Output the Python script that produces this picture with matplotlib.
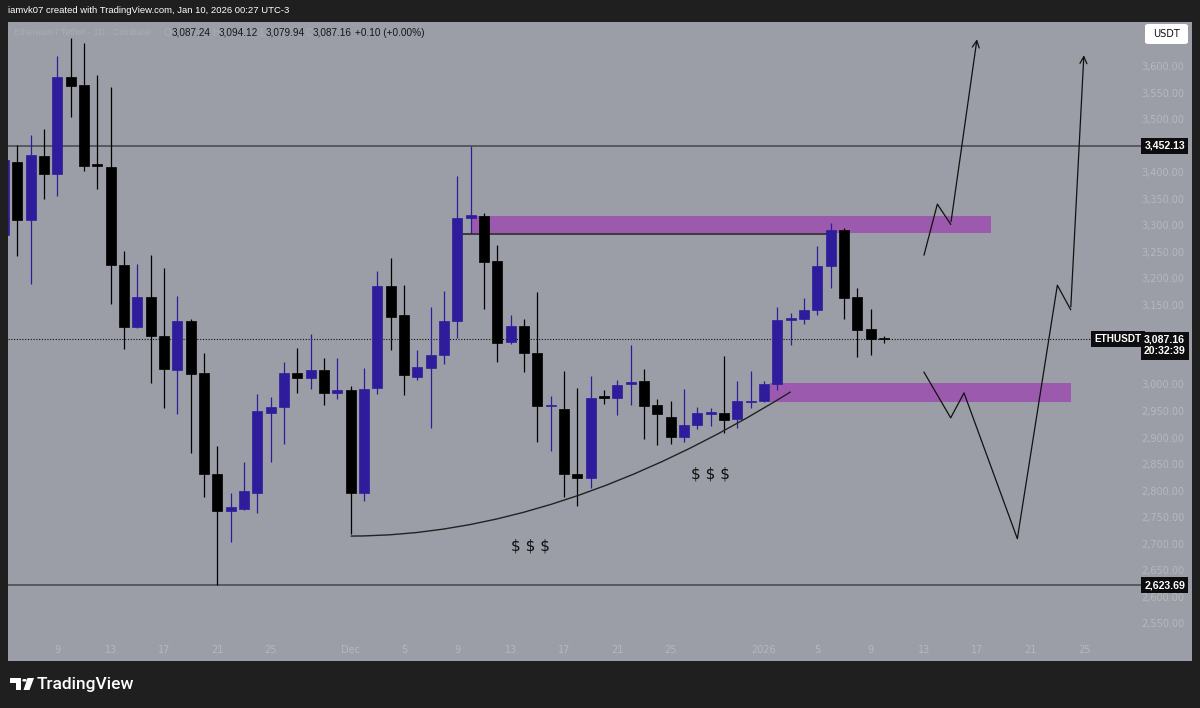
import numpy as np
import pandas as pd
import matplotlib; matplotlib.use("Agg")
import matplotlib.pyplot as plt
import matplotlib.dates as mdates
from matplotlib.patches import Rectangle, FancyBboxPatch, PathPatch, Circle, Polygon
from matplotlib.path import Path

# ---- daily ETH/USDT candles ----
dates = pd.date_range("2025-11-05", "2026-01-10", freq="D")
opens = [3283, 3421, 3312, 3432, 3399, 3581, 3566, 3417, 3412, 3227, 3111, 3167, 3094, 3029, 3121, 3023,
         2833, 2763, 2767, 2798, 2949, 2960, 3024, 3015, 3029, 2986,
         2991, 2798, 2995, 3187, 3133, 3016, 3033, 3057, 3121, 3315, 3319, 3234, 3082, 3112, 3061, 2961,
         2956, 2834, 2825, 2980, 2976, 3002, 3008, 2964, 2941, 2902, 2925, 2947, 2949, 2936, 2968,
         2970, 3003, 3123, 3125, 3142, 3225, 3294, 3167, 3107, 3087.24]
highs = [3442, 3454, 3472, 3484, 3621, 3656, 3646, 3586, 3562, 3253, 3229, 3246, 3222, 3169, 3125, 3062,
         2886, 2798, 2856, 2984, 2978, 3044, 3070, 3098, 3051, 3052,
         2999, 3033, 3216, 3240, 3189, 3067, 3148, 3178, 3395, 3452.13, 3325, 3264, 3133, 3126, 3176, 2980,
         3027, 2996, 3017, 2991, 3010, 3076, 3032, 2974, 2971, 2993, 2959, 2958, 3055, 3008, 3027,
         3008, 3148, 3136, 3165, 3263, 3306, 3297, 3183, 3145, 3094.12]
lows = [3280, 3245, 3192, 3352, 3358, 3506, 3404, 3371, 3153, 3069, 3109, 3004, 2957, 2947, 2872, 2790,
        2623.69, 2704, 2766, 2760, 2856, 2889, 2985, 2994, 2963, 2975,
        2720, 2782, 2983, 3066, 2982, 3010, 2919, 3041, 3090, 3285, 3145, 3044, 3078, 3025, 2894, 2877,
        2790, 2773, 2807, 2966, 2944, 2964, 2900, 2888, 2890, 2893, 2917, 2924, 2911, 2919, 2958,
        2968, 2991, 3076, 3116, 3133, 3183, 3126, 3054, 3057, 3079.94]
closes = [3426, 3312, 3434, 3399, 3581, 3565, 3413, 3413, 3227, 3110, 3167, 3094, 3031, 3121, 3022, 2833,
          2763, 2770, 2801, 2951, 2959, 3024, 3015, 3029, 2986, 2991,
          2798, 2993, 3187, 3129, 3020, 3035, 3057, 3121, 3316, 3321, 3233, 3081, 3113, 3061, 2961, 2964,
          2833, 2825, 2977, 2977, 3001, 3007, 2961, 2946, 2902, 2925, 2948, 2950, 2935, 2971, 2971,
          3002, 3123, 3127, 3143, 3225, 3294, 3165, 3104, 3087, 3087.16]

# ---- drawings ----
level_hi = 3452.13
level_lo = 2623.69
last_price = 3087.16
supply_zone = ("2025-12-10", "2026-01-18", 3288, 3320)
demand_zone = ("2026-01-01 10:48", "2026-01-24", 2968, 3004)
range_line = ("2025-12-09 09:36", "2026-01-06", 3285)
path_up_dates = ["2026-01-13", "2026-01-14", "2026-01-15", "2026-01-17"]
path_up_prices = [3246, 3342, 3304, 3658]
path_dn_dates = ["2026-01-13", "2026-01-15", "2026-01-16", "2026-01-20", "2026-01-23", "2026-01-24", "2026-01-25"]
path_dn_prices = [3025, 2939, 2986, 2711, 3189, 3143, 3628]
curve_dates = ["2025-12-01", "2025-12-16 14:24", "2026-01-03"]
curve_prices = [2716, 2716, 2988]
dollar_dates = ["2025-12-14 12:00", "2025-12-27 23:00"]
dollar_prices = [2697, 2833]

# 3,450 / 3,100 / 3,050 sit under the price tags in the original
price_ticks = [p for p in range(3600, 2549, -50) if p not in (3450, 3100, 3050)]
time_tick_dates = ["2025-11-09", "2025-11-13", "2025-11-17", "2025-11-21", "2025-11-25", "2025-12-01",
                   "2025-12-05", "2025-12-09", "2025-12-13", "2025-12-17", "2025-12-21", "2025-12-25",
                   "2026-01-01", "2026-01-05", "2026-01-09", "2026-01-13", "2026-01-17", "2026-01-21",
                   "2026-01-25"]
time_tick_labels = ["9", "13", "17", "21", "25", "Dec", "5", "9", "13", "17", "21", "25",
                    "2026", "5", "9", "13", "17", "21", "25"]

BG = "#1f1f1f"
PANEL = "#9b9ea6"
BLUE = "#2e1c9c"
PINK = "#9c5aae"
FAINT = "#b6b8be"

W, H = 1200, 708
fig = plt.figure(figsize=(W / 100, H / 100), dpi=100, facecolor=BG)
fx = lambda px: px / W
fy = lambda py: 1 - py / H

L, R, T, B = 8, 1192, 22, 660.7
ax = fig.add_axes([fx(L), fy(B), fx(R - L), (B - T) / H])
ax.set_facecolor(PANEL)
for s in ax.spines.values():
    s.set_visible(False)
ax.set_xticks([]); ax.set_yticks([])
axx = lambda px: (px - L) / (R - L)

d = lambda s: mdates.date2num(pd.Timestamp(s))
x0 = d("2025-11-09")
ax.set_xlim(x0 - 3.706, x0 + 85.1)
ax.set_ylim(2481.0, 3685.4)

# zones
for z in (supply_zone, demand_zone):
    ax.add_patch(Rectangle((d(z[0]), z[2]), d(z[1]) - d(z[0]), z[3] - z[2], fc=PINK, ec="none", zorder=1))
ax.plot([d(range_line[0]), d(range_line[1])], [range_line[2]] * 2, color="#202020", lw=1.1, zorder=2)

# horizontal levels
ax.axhline(level_hi, xmin=0, xmax=axx(1141), color="#4b4e55", lw=1.2, zorder=2)
ax.axhline(level_lo, xmin=0, xmax=axx(1141), color="#4b4e55", lw=1.2, zorder=2)
ax.axhline(last_price, xmin=0, xmax=axx(1096), color="#111111", lw=0.8, ls=(0, (1, 1.5)), zorder=2)

# candles
xs = mdates.date2num(dates)
for x, o, h, l, c in zip(xs, opens, highs, lows, closes):
    col = BLUE if c >= o else "#000000"
    ax.vlines(x, l, h, color=col, lw=0.9, zorder=3)
    ax.add_patch(Rectangle((x - 0.375, min(o, c)), 0.75, max(abs(c - o), 3),
                           fc=col, ec=col, lw=0.5, zorder=3))

# projected paths
for pd_, pp in ((path_up_dates, path_up_prices), (path_dn_dates, path_dn_prices)):
    px_ = [d(s) for s in pd_]
    ax.plot(px_[:-1], pp[:-1], color="#111111", lw=0.9, zorder=4)
    ax.annotate("", xy=(px_[-1], pp[-1]), xytext=(px_[-2], pp[-2]),
                arrowprops=dict(arrowstyle="->,head_length=0.5,head_width=0.25", color="#111111", lw=0.9),
                zorder=4)

# rounded-bottom curve
cv = Path([(d(s), p) for s, p in zip(curve_dates, curve_prices)], [Path.MOVETO, Path.CURVE3, Path.CURVE3])
ax.add_patch(PathPatch(cv, fc="none", ec="#222222", lw=1.0, zorder=4))
for s, p in zip(dollar_dates, dollar_prices):
    ax.text(d(s), p, "$ $ $", ha="center", va="center", fontsize=11, color="#111111", zorder=5)

# price scale labels
for p in price_ticks:
    ax.annotate(f"{p:,.2f}", xy=(axx(1184), p), xycoords=("axes fraction", "data"),
                ha="right", va="center", fontsize=7, color=FAINT, zorder=5)

def tag(text, xpx, price, fs=7.2):
    ax.annotate(text, xy=(axx(xpx), price), xycoords=("axes fraction", "data"), ha="center", va="center",
                fontsize=fs, color="white", fontweight="bold", family="Liberation Sans", zorder=7,
                bbox=dict(boxstyle="square,pad=0.3", fc="#0d0d0f", ec="none"))

tag(f"{level_hi:,.2f}", 1164.7, level_hi, fs=7.6)
tag(f"{level_lo:,.2f}", 1164.7, level_lo, fs=7.6)
tag("ETHUSDT", 1118, last_price, fs=7.2)
tag(f"{last_price:,.2f}\n20:32:39", 1164.7, last_price - 12, fs=7.6)

# time axis labels
for s, lab in zip(time_tick_dates, time_tick_labels):
    ax.annotate(lab, xy=(d(s), (B - 650) / (B - T)), xycoords=("data", "axes fraction"),
                ha="center", va="center", fontsize=7, color=FAINT, zorder=5)

# USDT button
fig.patches.append(FancyBboxPatch((fx(1145), fy(44)), fx(43), 20 / H, boxstyle="round,pad=0,rounding_size=0.003",
                                  transform=fig.transFigure, fc="white", ec="none", zorder=8))
fig.text(fx(1166.5), fy(34), "USDT", ha="center", va="center", fontsize=7, color="#111111", zorder=9)

# header + legend
fig.text(fx(8), fy(10.5), "iamvk07 created with TradingView.com, Jan 10, 2026 00:27 UTC-3",
         ha="left", va="center", fontsize=6.8, color="white", family="Liberation Sans")
legend_items = [(14, "Ethereum / Tether · 1D · Coinbase", "#abadb4"), (164, "O", "#abadb4"),
                (172, "3,087.24", "#161616"), (212, "H", "#abadb4"), (219, "3,094.12", "#161616"),
                (259, "L", "#abadb4"), (266, "3,079.94", "#161616"), (306, "C", "#abadb4"),
                (313, "3,087.16", "#161616"), (355, "+0.10 (+0.00%)", "#161616")]
for xp, t, c in legend_items:
    fs = 6.5 if xp == 14 else 7.2
    fig.text(fx(xp), fy(32.5), t, ha="left", va="center", fontsize=fs, color=c, family="Liberation Sans")

# footer logo
for r in [(10, 678, 11, 4.5), (16, 678, 5, 12)]:
    fig.patches.append(Rectangle((fx(r[0]), fy(r[1] + r[3])), fx(r[2]), r[3] / H,
                                 transform=fig.transFigure, fc="white", ec="none"))
fig.patches.append(Circle((fx(24.5), fy(680.3)), 2.3 / W, transform=fig.transFigure, fc="white", ec="none"))
fig.patches.append(Polygon([(fx(27.5), fy(678)), (fx(34), fy(678)), (fx(29.5), fy(690)), (fx(23.5), fy(690))],
                           closed=True, transform=fig.transFigure, fc="white", ec="none"))
fig.text(fx(37), fy(684.5), "TradingView", ha="left", va="center", fontsize=12.5, color="white",
         family="Roboto", fontweight="medium")

fig.savefig("out.png", dpi=100, facecolor=BG)
